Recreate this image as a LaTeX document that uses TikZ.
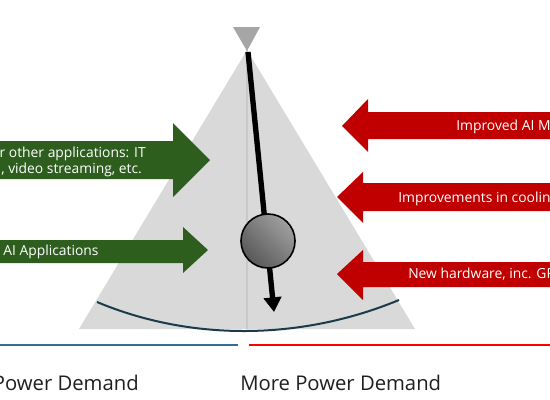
\documentclass[tikz,border=0pt]{standalone}
\usepackage{fontspec}
\setmainfont{Open Sans}
\usetikzlibrary{arrows.meta,shadings}
\definecolor{tri}{HTML}{D9D9D9}
\definecolor{trimid}{HTML}{C9C9C9}
\definecolor{topgray}{HTML}{A6A6A6}
\definecolor{grn}{HTML}{2E5E1E}
\definecolor{rd}{HTML}{C00000}
\definecolor{curvec}{HTML}{1B3B4B}
\definecolor{blueline}{HTML}{31708F}
\definecolor{redline}{HTML}{FF0000}
\definecolor{balldark}{HTML}{4A4A4A}
\definecolor{ballmid}{HTML}{7A7A7A}
\definecolor{balllight}{HTML}{B0B0B0}
\tikzset{
  arrowtext/.style={text=white, inner sep=0pt, font=\fontsize{10.4}{12}\selectfont},
  bigtext/.style={text=black!88, inner sep=0pt, font=\fontsize{15.2}{18}\selectfont},
}
\begin{document}
\begin{tikzpicture}[x=0.75pt,y=-0.75pt]
\useasboundingbox (0,0) rectangle (550,400);
\clip (0,0) rectangle (550,400);
\fill[white] (0,0) rectangle (550,400);
% triangle
\fill[tri] (79,329) -- (247,50) -- (415,329) -- cycle;
\draw[trimid, line width=0.8pt] (247,50) -- (247,329);
% top small triangle
\fill[topgray] (233,27) -- (260,27) -- (247,51) -- cycle;
% curve
\coordinate (cl) at (97,302);
\coordinate (cr) at (399,300);
\draw[curvec, line width=1.5pt] (cl) .. controls (190,341) and (300,341) .. (cr);
% green arrows
\fill[grn] (-5,141) -- (173,141) -- (173,123) -- (210,160) -- (173,197) -- (173,179) -- (-5,179) -- cycle;
\fill[grn] (-5,240) -- (183,240) -- (183,227) -- (208,250) -- (183,273) -- (183,263) -- (-5,263) -- cycle;
% red arrows
\fill[rd] (560,112) -- (368,112) -- (368,99) -- (342,126) -- (368,152) -- (368,139) -- (560,139) -- cycle;
\fill[rd] (560,183) -- (363,183) -- (363,172) -- (337,197) -- (363,223) -- (363,211) -- (560,211) -- cycle;
\fill[rd] (560,262) -- (363,262) -- (363,250) -- (337,274) -- (363,300) -- (363,287) -- (560,287) -- cycle;
% arrow texts
\node[arrowtext, anchor=base east] (g1a) at (146,157) {for other applications: IT};
\node[arrowtext, anchor=base west] (g1b) at (1,173) {, video streaming, etc.};
\node[arrowtext, anchor=base west] (g2) at (3,255) {AI Applications};
\node[arrowtext, anchor=base west] (r1) at (456,130) {Improved AI Models};
\node[arrowtext, anchor=base west] (r2) at (398,202) {Improvements in cooling};
\node[arrowtext, anchor=base west] (r3) at (408,278) {New hardware, inc. GPUs};
% pendulum
\coordinate (pivot) at (248,52);
\coordinate (tip) at (274,312);
\draw[black, line width=4pt, -{Triangle[length=11pt,width=13pt]}] (pivot) -- (tip);
\node[circle, draw=black, line width=1.2pt, minimum size=40.5pt, inner sep=0pt,
      lower left=balldark, upper right=balllight, upper left=ballmid, lower right=ballmid] (ball) at (268,241) {};
% bottom lines
\coordinate (b1) at (0,345);
\coordinate (b2) at (238,345);
\coordinate (b3) at (249,345);
\coordinate (b4) at (550,345);
\draw[blueline, line width=1.6pt] (b1) -- (b2);
\draw[redline, line width=1.6pt] (b3) -- (b4);
\node[bigtext, anchor=base east] (less) at (139,390) {Power Demand};
\node[bigtext, anchor=base west] (more) at (240,390) {More Power Demand};
\end{tikzpicture}
\end{document}
